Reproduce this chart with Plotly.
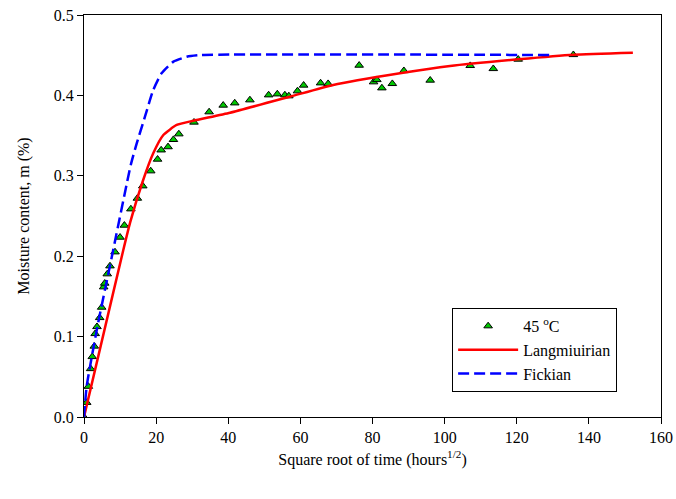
import plotly.graph_objects as go

# Measured data (45 °C)
data_x = [0, 0.75, 1.2, 1.85, 2.3, 2.85, 3.1, 3.6, 4.35, 4.9, 5.45, 5.75, 6.45, 7.2, 8.6,
          10.0, 11.2, 13.0, 14.8, 16.3, 18.5, 20.4, 21.4, 23.3, 24.8, 26.3, 30.5, 34.7,
          38.6, 41.8, 46.0, 51.2, 53.6, 55.7, 56.8, 59.2, 60.9, 65.6, 67.7, 76.3, 80.3,
          81.2, 82.6, 85.5, 88.7, 96.0, 107.1, 113.5, 120.4, 135.7]
data_y = [0, 0.018, 0.038, 0.060, 0.075, 0.088, 0.1036, 0.1123, 0.1235, 0.1364, 0.1617,
          0.1663, 0.1779, 0.1878, 0.2052, 0.2235, 0.2384, 0.2587, 0.272, 0.2873, 0.306,
          0.3205, 0.332, 0.336, 0.345, 0.352, 0.3666, 0.3794, 0.3877, 0.3905, 0.3943,
          0.4005, 0.4017, 0.4005, 0.3993, 0.4055, 0.4126, 0.4154, 0.4146, 0.4374, 0.4167,
          0.4195, 0.4092, 0.4146, 0.4307, 0.4188, 0.437, 0.4332, 0.4449, 0.4506]

# Langmuirian model curve
lang_x = [0, 5.45, 10.9, 12.8, 16.2, 19.2, 22.0, 25.7, 30.3, 40.5,
          57.1, 69.1, 87.6, 101.5, 120.4, 135.7, 152.2]
lang_y = [0, 0.104, 0.2077, 0.242, 0.292, 0.328, 0.3507, 0.3632, 0.3685, 0.3785,
          0.3984, 0.413, 0.4275, 0.4366, 0.4449, 0.4506, 0.4531]

# Fickian model curve
fick_x = [0, 0.74, 3.7, 7.7, 13.0, 14.6, 16.9, 19.2, 21.5, 24.8, 28.5, 32.2, 130.3]
fick_y = [0, 0.038, 0.112, 0.199, 0.314, 0.340, 0.3735, 0.4067, 0.4275, 0.442, 0.4481,
          0.4502, 0.4502]

x_ticks = [0, 20, 40, 60, 80, 100, 120, 140, 160]
y_ticks = [0.0, 0.1, 0.2, 0.3, 0.4, 0.5]

FONT = "'Times New Roman', 'Liberation Serif', 'DejaVu Serif', serif"

fig = go.Figure()
fig.add_trace(go.Scatter(
    x=data_x, y=data_y, mode="markers", name="45 <sup>o</sup>C",
    marker=dict(symbol="triangle-up", size=7.5, color="#00c800",
                line=dict(color="black", width=1)),
))
fig.add_trace(go.Scatter(
    x=lang_x, y=lang_y, mode="lines", name="Langmiuirian",
    line=dict(color="#ff0000", width=2.5, shape="spline", smoothing=0.5),
))
fig.add_trace(go.Scatter(
    x=fick_x, y=fick_y, mode="lines", name="Fickian",
    line=dict(color="#0000ff", width=2.5, dash="11px,5px", shape="spline", smoothing=0.5),
))

axis_common = dict(
    showline=True, linecolor="black", linewidth=1, mirror=True,
    ticks="outside", ticklen=6, tickcolor="black", tickwidth=1,
    showgrid=False, zeroline=False,
    tickfont=dict(family=FONT, size=16, color="black"),
)

fig.update_layout(
    width=676, height=499,
    margin=dict(l=84, r=15, t=15, b=82, autoexpand=False),
    paper_bgcolor="white", plot_bgcolor="white",
    font=dict(family=FONT, color="black"),
    xaxis=dict(range=[0, 160], tickvals=x_ticks,
               title=dict(text="Square root of time (hours<sup>1/2</sup>)",
                          font=dict(family=FONT, size=16), standoff=8),
               **axis_common),
    yaxis=dict(range=[0, 0.5], tickvals=y_ticks, tickformat=".1f",
               title=dict(text="Moisture content, m (%)",
                          font=dict(family=FONT, size=16), standoff=20),
               **axis_common),
    showlegend=True,
    legend=dict(x=0.638, y=0.271, xanchor="left", yanchor="top",
                bordercolor="black", borderwidth=1, bgcolor="white",
                font=dict(family=FONT, size=16), tracegroupgap=0,
                itemwidth=60),
)

fig.write_html("out.html")
